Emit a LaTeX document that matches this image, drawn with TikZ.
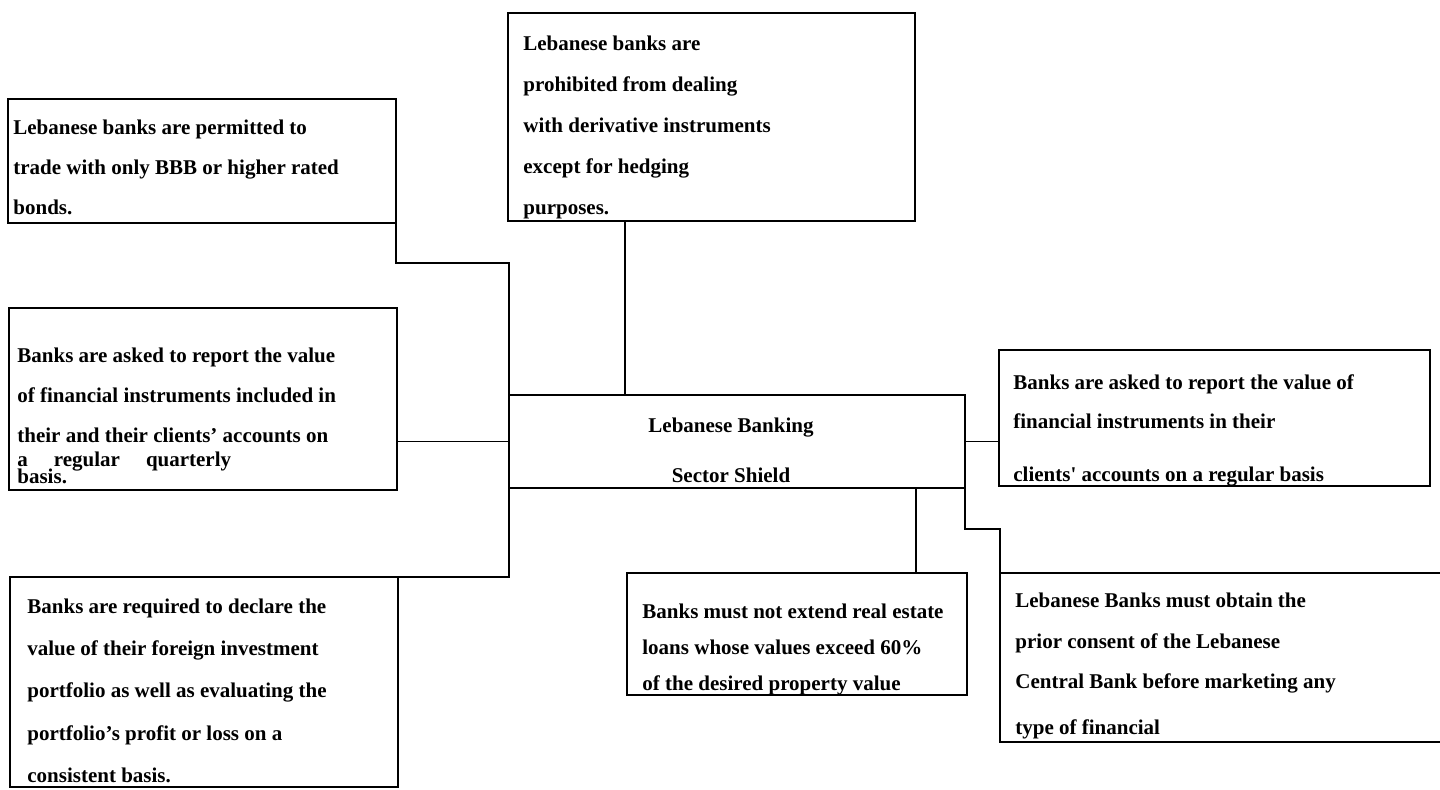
\documentclass[tikz,border=0pt]{standalone}
\usepackage{fontspec}
\setmainfont{Liberation Serif}
\usetikzlibrary{positioning}

\begin{document}
\begin{tikzpicture}[x=0.5pt, y=-0.5pt,
    box/.style 2 args={draw, line width=1.1pt, inner sep=0pt, outer sep=0pt,
      minimum width=#1*0.5pt, minimum height=#2*0.5pt},
    txt/.style={anchor=base west, align=left, inner sep=0pt,
      font=\fontsize{10.5pt}{20pt}\selectfont\bfseries},
    link/.style={line width=0.6pt}]
        \useasboundingbox (0,0) rectangle (1440,789);
        % Central box
        \node[box={456}{93}] (shield) at (737,441.5) {};
        \node[txt, anchor=base, align=center] (shieldtxt) at (731,482)
          {Lebanese Banking\\[5pt]Sector Shield};
        % Top-left: rated bonds
        \node[box={388}{124}] (permit) at (202,161) {};
        \node[txt] (permittxt) at (13,214)
          {Lebanese banks are permitted to\\trade with only BBB or higher rated\\bonds.};
        % Top: derivatives
        \node[box={407}{208}] (derive) at (711.5,117) {};
        \node[txt] (derivetxt) at (523,214)
          {Lebanese banks are\\[0.5pt]prohibited from dealing\\[0.5pt]with derivative instruments\\[0.5pt]except for hedging\\[0.5pt]purposes.};
        % Middle-left: quarterly report
        \node[box={388}{182}] (report) at (203,399) {};
        \node[txt] (reporttxt) at (17,483)
          {Banks are asked to report the value\\of financial instruments included in\\their and their clients’ accounts on\\[-8pt]a\hspace{13pt}regular\hspace{13pt}quarterly\\[-11.5pt]basis.};
        % Right: clients' accounts
        \node[box={431}{136}] (clients) at (1214.5,418) {};
        \node[txt] (clientstxt) at (1013,481)
          {Banks are asked to report the value of\\[-0.5pt]financial instruments in their\\[6.5pt]clients\textquotesingle{} accounts on a regular basis};
        % Bottom-left: foreign portfolio
        \node[box={388}{210}] (declare) at (204,682) {};
        \node[txt] (declaretxt) at (27,782)
          {Banks are required to declare the\\[1pt]value of their foreign investment\\[1pt]portfolio as well as evaluating the\\[1.5pt]portfolio’s profit or loss on a\\[1pt]consistent basis.};
        % Bottom-middle: real estate loans
        \node[box={340}{122}] (estate) at (797,634) {};
        \node[txt] (estatetxt) at (642,690)
          {Banks must not extend real estate\\[-2pt]loans whose values exceed 60\%\\[-2pt]of the desired property value};
        % Bottom-right: marketing consent
        \node[box={446}{169}] (consent) at (1223,657.5) {};
        \node[txt] (consenttxt) at (1015,734)
          {Lebanese Banks must obtain the\\[0.5pt]prior consent of the Lebanese\\Central Bank before marketing any\\[3pt]type of financial};
        % Connectors
        \coordinate (kinkA) at ([yshift=-20pt]permit.south east);
        \draw[link] (permit.south east) -- (kinkA) -| (shield.north west);
        \draw[link] ([xshift=58pt]shield.north west) -- ([xshift=58pt]shield.north west |- derive.south);
        \draw[link] (shield.west) -- (shield.west -| report.east);
        \draw[link] (shield.east) -- (shield.east -| clients.west);
        \draw[link] (shield.south west) |- (declare.north east);
        \draw[link] ([xshift=-24.5pt]shield.south east) -- ([xshift=-24.5pt]shield.south east |- estate.north);
        \draw[link] (shield.south east) -- ++(0,-20.5pt) -| (consent.north west);
      \end{tikzpicture}
\end{document}
